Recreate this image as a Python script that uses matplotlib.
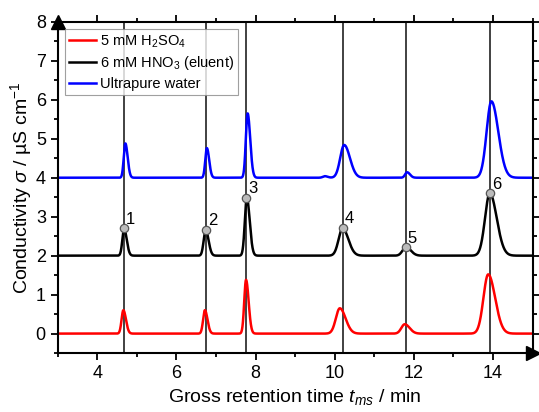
import numpy as np
import matplotlib.pyplot as plt
from matplotlib.ticker import MultipleLocator

plt.rcParams['font.family'] = ['Liberation Sans', 'DejaVu Sans']
plt.rcParams['mathtext.fontset'] = 'custom'
plt.rcParams['mathtext.rm'] = 'Liberation Sans'
plt.rcParams['mathtext.it'] = 'Liberation Sans:italic'

# peak tables: retention time (min), height, front width (min)
baseline = [0.0, 2.0, 4.0]
red_t = [4.66, 6.72, 7.76, 10.13, 11.77, 13.88]
red_h = [0.60, 0.60, 1.38, 0.65, 0.24, 1.52]
red_w = [0.045, 0.045, 0.045, 0.10, 0.085, 0.12]

black_t = [4.68, 6.74, 7.78, 10.20, 11.80, 13.92]
black_h = [0.68, 0.66, 1.48, 0.70, 0.22, 1.60]
black_w = [0.045, 0.05, 0.05, 0.10, 0.085, 0.12]

blue_t = [4.71, 6.77, 7.80, 9.75, 10.24, 11.83, 13.96]
blue_h = [0.88, 0.76, 1.65, 0.04, 0.84, 0.14, 1.96]
blue_w = [0.04, 0.04, 0.045, 0.05, 0.10, 0.05, 0.12]

tailing = 1.45  # back half of each peak is wider than the front

marker_t = [4.68, 6.74, 7.77, 10.2, 11.8, 13.93]
marker_y = [2.70, 2.67, 3.48, 2.72, 2.22, 3.60]
marker_lbl = ['1', '2', '3', '4', '5', '6']

names = ['5 mM H$_2$SO$_4$', '6 mM HNO$_3$ (eluent)', 'Ultrapure water']
colors = ['#ff0000', '#000000', '#0000ff']

t = np.linspace(3, 15, 4000)


def trace(base, pos, h, w):
    y = np.full_like(t, base)
    for p, a, s in zip(pos, h, w):
        sig = np.where(t < p, s, s * tailing)
        y += a * np.exp(-0.5 * ((t - p) / sig) ** 2)
    return y


fig = plt.figure(figsize=(5.39, 4.12), dpi=100)
ax = fig.add_axes([0.107, 0.143, 0.881, 0.804])

for xv in marker_t:
    ax.axvline(xv, color='#333333', lw=1.3, zorder=1)

series = [(red_t, red_h, red_w), (black_t, black_h, black_w), (blue_t, blue_h, blue_w)]
for i, (pos, h, w) in enumerate(series):
    ax.plot(t, trace(baseline[i], pos, h, w), color=colors[i], lw=1.8, label=names[i], zorder=2)

ax.plot(marker_t, marker_y, 'o', ms=6, mfc='#bbbbbb', mec='#555555', mew=0.9, zorder=3)
for xv, yv, s in zip(marker_t, marker_y, marker_lbl):
    ax.text(xv + 0.05, yv + 0.04, s, fontsize=12, ha='left', va='bottom')

ax.set_xlim(3, 15)
ax.set_ylim(-0.5, 8)
ax.xaxis.set_major_locator(MultipleLocator(2))
ax.xaxis.set_minor_locator(MultipleLocator(1))
ax.yaxis.set_major_locator(MultipleLocator(1))
ax.yaxis.set_minor_locator(MultipleLocator(0.5))
ax.tick_params(which='both', direction='out', top=True, right=True, width=1.3, labelsize=13)
ax.tick_params(which='major', length=5)
ax.tick_params(which='minor', length=3)
ax.tick_params(labeltop=False, labelright=False)
for sp in ax.spines.values():
    sp.set_linewidth(1.5)

ax.plot(0, 1, '^', color='k', ms=10, transform=ax.transAxes, clip_on=False, zorder=5)
ax.plot(1, 0, '>', color='k', ms=10, transform=ax.transAxes, clip_on=False, zorder=5)

ax.set_xlabel('Gross retention time $t_{ms}$ / min', fontsize=14)
ax.set_ylabel('Conductivity $\\sigma$ / µS cm$^{-1}$', fontsize=14, labelpad=1)

leg = ax.legend(loc='upper left', fontsize=10.5, fancybox=False, edgecolor='#888888',
                handlelength=1.8, handletextpad=0.3, borderpad=0.3, labelspacing=0.3,
                borderaxespad=0.5)
leg.get_frame().set_linewidth(0.8)

fig.savefig('out.png', dpi=100)
